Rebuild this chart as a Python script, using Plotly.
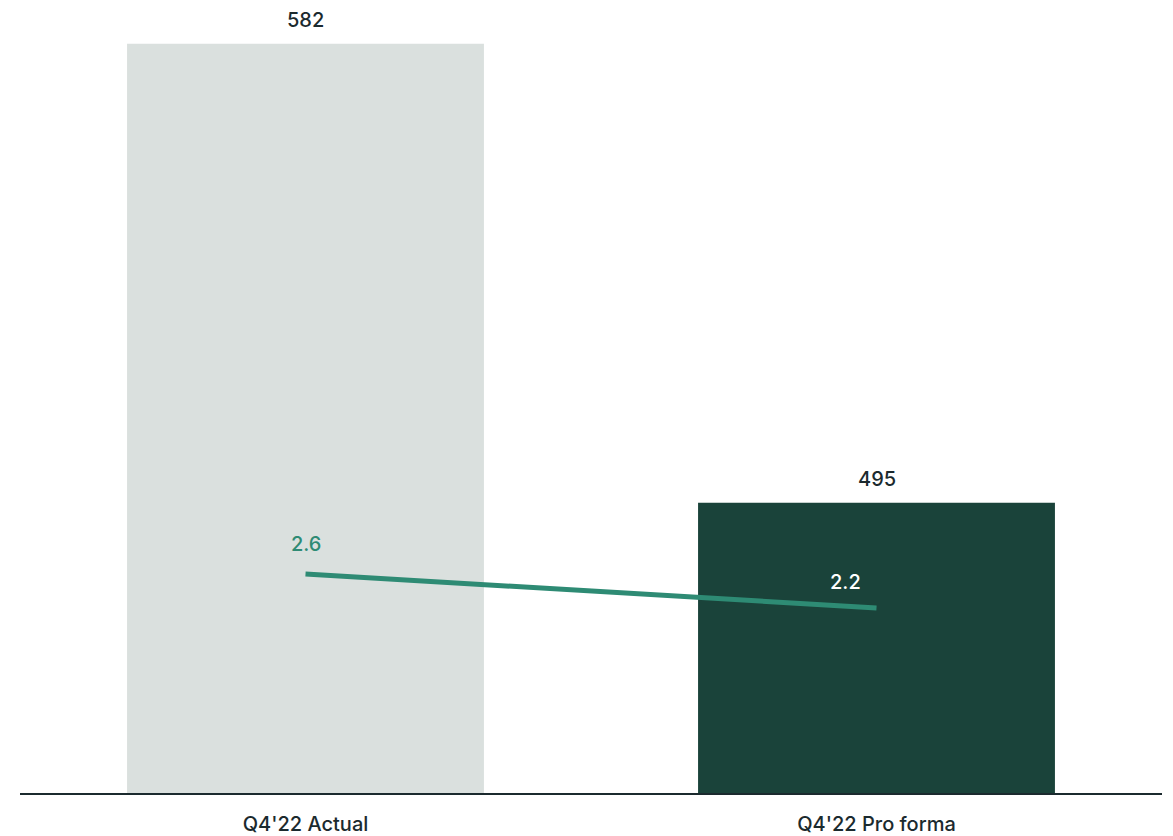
import plotly.graph_objects as go

categories = ["Q4'22 Actual", "Q4'22 Pro forma"]
bar_values = [582, 495]
line_values = [2.6, 2.2]
bar_colors = ["#DAE0DE", "#1A433A"]
line_label_colors = ["#2E8B74", "#FFFFFF"]
line_label_xshift = [0, -31]
line_label_yshift = [16, 12]

FONT = "Inter"
DARK = "#1B2A2E"
FSIZE = 20

fig = go.Figure()
fig.add_trace(go.Bar(x=categories, y=bar_values, marker=dict(color=bar_colors, line=dict(width=0)),
                     hoverinfo="skip", showlegend=False))
fig.add_trace(go.Scatter(x=categories, y=line_values, yaxis="y2", mode="lines",
                         line=dict(color="#2E8B74", width=5), showlegend=False, hoverinfo="skip"))

for c, v in zip(categories, bar_values):
    fig.add_annotation(x=c, y=v, text=str(v), showarrow=False, yanchor="bottom", yshift=10,
                       font=dict(family=FONT, size=FSIZE, color=DARK, weight=500))
for c, v, col, xs, ys in zip(categories, line_values, line_label_colors, line_label_xshift, line_label_yshift):
    fig.add_annotation(x=c, y=v, yref="y2", text=f"{v:.1f}", showarrow=False, yanchor="bottom",
                       yshift=ys, xshift=xs, font=dict(family=FONT, size=FSIZE, color=col, weight=500))

fig.update_layout(
    width=1173, height=836,
    margin=dict(l=20, r=11, t=20, b=43, autoexpand=False),
    plot_bgcolor="white", paper_bgcolor="white",
    bargap=0.375,
    font=dict(family=FONT, size=FSIZE, color=DARK),
    xaxis=dict(showline=True, linecolor=DARK, linewidth=2, ticks="", showgrid=False, automargin=False,
               tickfont=dict(family=FONT, size=FSIZE, color=DARK, weight=500), ticklabelstandoff=12),
    yaxis=dict(range=[440, 586.5], visible=False, showgrid=False, automargin=False),
    yaxis2=dict(range=[0.0235, 9.118], overlaying="y", visible=False, showgrid=False, automargin=False),
)

fig.write_html("out.html")
